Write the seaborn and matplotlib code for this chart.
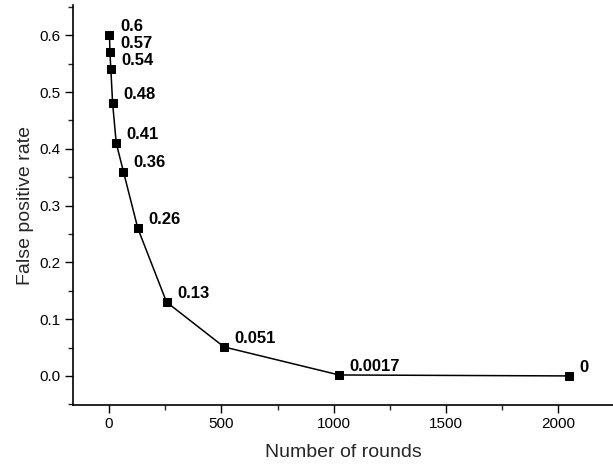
import pandas as pd
import matplotlib
matplotlib.use("Agg")
import matplotlib.pyplot as plt
from matplotlib.ticker import MultipleLocator
import seaborn as sns

# Datos
rounds = [2, 4, 8, 16, 32, 64, 128, 256, 512, 1024, 2048]
fp_rate = [0.6, 0.57, 0.54, 0.48, 0.41, 0.36, 0.26, 0.13, 0.051, 0.0017, 0]
labels = ["0.6", "0.57", "0.54", "0.48", "0.41", "0.36", "0.26", "0.13", "0.051", "0.0017", "0"]

df = pd.DataFrame({"rounds": rounds, "rate": fp_rate})

sns.set_style("ticks")
plt.rcParams["font.family"] = ["Liberation Sans", "DejaVu Sans"]

fig = plt.figure(figsize=(6.13, 4.67), dpi=100)
ax = fig.add_axes([0.1196, 0.133, 0.8804, 0.856])

sns.lineplot(data=df, x="rounds", y="rate", ax=ax, color="black", linewidth=1.1,
             marker="s", markersize=6.3, markeredgecolor="black", markerfacecolor="black")

for x, y, t in zip(rounds, fp_rate, labels):
    ax.annotate(t, (x, y), xytext=(7.5, 6.3), textcoords="offset points",
                ha="left", va="center", fontsize=12, fontweight="bold", color="black")

ax.set_xlim(-159, 2243)
ax.set_ylim(-0.051, 0.653)
ax.xaxis.set_major_locator(MultipleLocator(500))
ax.xaxis.set_minor_locator(MultipleLocator(250))
ax.yaxis.set_major_locator(MultipleLocator(0.1))
ax.yaxis.set_minor_locator(MultipleLocator(0.05))
ax.tick_params(which="major", length=5.5, width=1, labelsize=11, colors="black")
ax.tick_params(which="minor", length=3.5, width=1)

ax.set_xlabel("Number of rounds", fontsize=14, labelpad=9)
ax.set_ylabel("False positive rate", fontsize=14, labelpad=4)

for s in ["left", "bottom"]:
    ax.spines[s].set_linewidth(1.2)
    ax.spines[s].set_color("black")
sns.despine(ax=ax)

fig.savefig("out.png", dpi=100)
